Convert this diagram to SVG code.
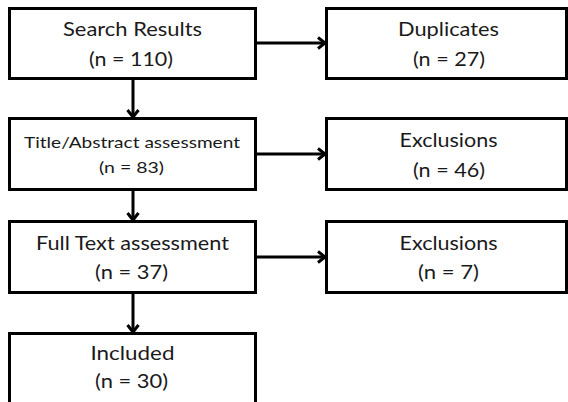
<svg xmlns="http://www.w3.org/2000/svg" width="568" height="402" viewBox="0 0 568 402">
<style>
.box{fill:#fff;stroke:#000;stroke-width:3}
.t{font-family:Lato,"Open Sans","Liberation Sans",sans-serif;font-size:19px;fill:#1a1a1a;text-anchor:middle}
.s{font-size:16px}
.c{stroke:#000;stroke-width:3;fill:none}
</style>
<defs>
<marker id="ah" markerUnits="userSpaceOnUse" markerWidth="14" markerHeight="16" refX="10" refY="7" orient="auto">
<path d="M3,1.5 L10,7 L3,12.5" fill="none" stroke="#000" stroke-width="3"/>
</marker>
</defs>
<rect width="568" height="402" fill="#fff"/>
<g id="connectors">
<line class="c" x1="257" y1="43" x2="325" y2="43" marker-end="url(#ah)"/>
<line class="c" x1="257" y1="154" x2="325" y2="154" marker-end="url(#ah)"/>
<line class="c" x1="257" y1="257" x2="325" y2="257" marker-end="url(#ah)"/>
<line class="c" x1="133" y1="80" x2="133" y2="117" marker-end="url(#ah)"/>
<line class="c" x1="133" y1="191" x2="133" y2="220" marker-end="url(#ah)"/>
<line class="c" x1="133" y1="294" x2="133" y2="332" marker-end="url(#ah)"/>
</g>
<g id="search">
<rect class="box" x="9.5" y="8.5" width="246" height="70"/>
<text class="t" x="132.5" y="36" textLength="139" lengthAdjust="spacingAndGlyphs">Search Results</text>
<text class="t" x="131" y="66" textLength="84" lengthAdjust="spacingAndGlyphs">(n = 110)</text>
</g>
<g id="duplicates">
<rect class="box" x="326.5" y="8.5" width="240" height="70"/>
<text class="t" x="448.5" y="36" textLength="101" lengthAdjust="spacingAndGlyphs">Duplicates</text>
<text class="t" x="449" y="66" textLength="72" lengthAdjust="spacingAndGlyphs">(n = 27)</text>
</g>
<g id="title">
<rect class="box" x="9.5" y="118.5" width="246" height="71"/>
<text class="t s" x="132" y="148" textLength="216" lengthAdjust="spacingAndGlyphs">Title/Abstract assessment</text>
<text class="t s" x="131.5" y="173" textLength="65" lengthAdjust="spacingAndGlyphs">(n = 83)</text>
</g>
<g id="excl1">
<rect class="box" x="326.5" y="118.5" width="240" height="71"/>
<text class="t" x="448.5" y="147" textLength="98" lengthAdjust="spacingAndGlyphs">Exclusions</text>
<text class="t" x="449" y="177" textLength="72" lengthAdjust="spacingAndGlyphs">(n = 46)</text>
</g>
<g id="fulltext">
<rect class="box" x="9.5" y="221.5" width="246" height="71"/>
<text class="t" x="132.5" y="250" textLength="193" lengthAdjust="spacingAndGlyphs">Full Text assessment</text>
<text class="t" x="131.5" y="279" textLength="73" lengthAdjust="spacingAndGlyphs">(n = 37)</text>
</g>
<g id="excl2">
<rect class="box" x="326.5" y="221.5" width="240" height="71"/>
<text class="t" x="448.5" y="250" textLength="98" lengthAdjust="spacingAndGlyphs">Exclusions</text>
<text class="t" x="448.5" y="279" textLength="61" lengthAdjust="spacingAndGlyphs">(n = 7)</text>
</g>
<g id="included">
<rect class="box" x="9.5" y="333.5" width="246" height="80"/>
<text class="t" x="132.5" y="360" textLength="84" lengthAdjust="spacingAndGlyphs">Included</text>
<text class="t" x="131.5" y="388" textLength="73" lengthAdjust="spacingAndGlyphs">(n = 30)</text>
</g>
</svg>
